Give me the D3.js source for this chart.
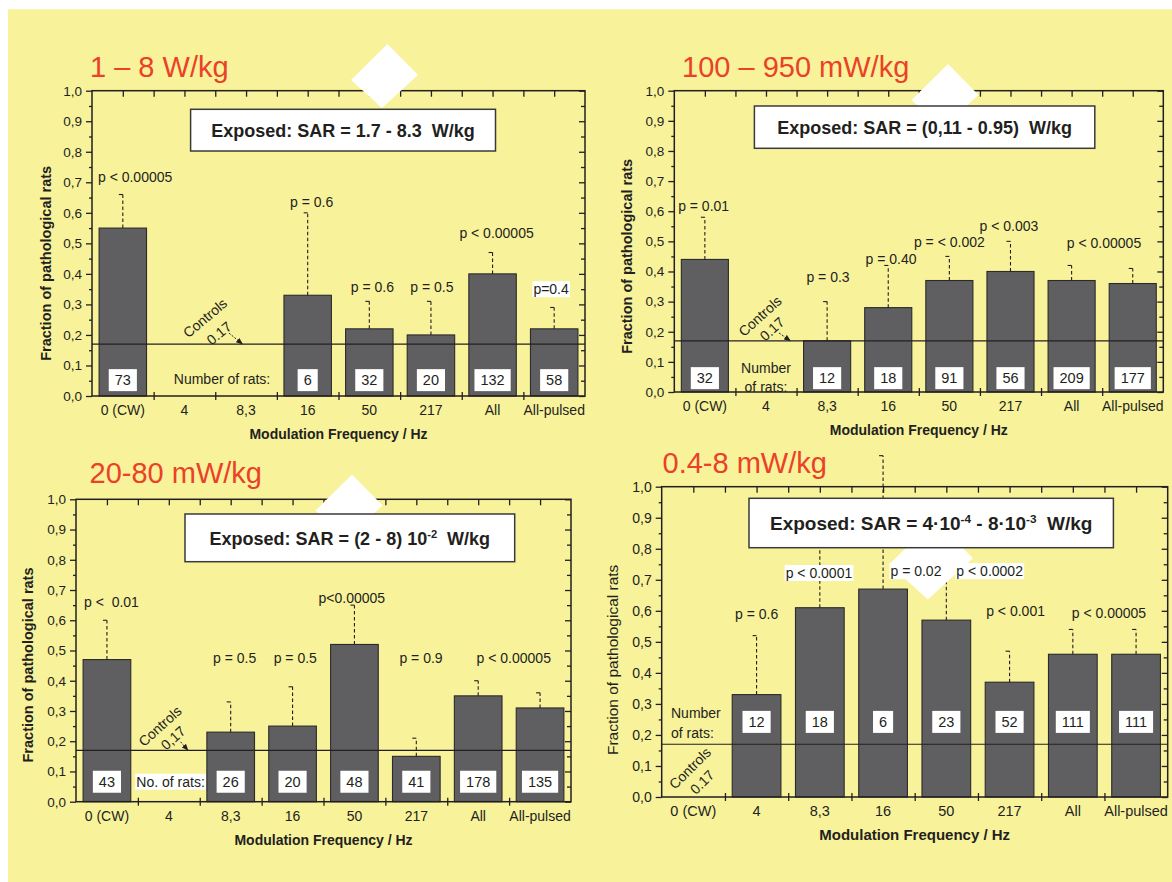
<!DOCTYPE html>
<html>
<head>
<meta charset="utf-8">
<script src="https://cdn.jsdelivr.net/npm/d3@7"></script>
<style>
  html, body { margin: 0; padding: 0; background: #ffffff; }
  svg { display: block; font-family: "Liberation Sans", Arial, Helvetica, sans-serif; }
  text { white-space: pre; }
</style>
</head>
<body>
<svg id="chart" width="1172" height="882"></svg>
<script>
// ---------- shared ----------
const categories = ["0 (CW)", "4", "8,3", "16", "50", "217", "All", "All-pulsed"];
const yTicks = [0, 0.1, 0.2, 0.3, 0.4, 0.5, 0.6, 0.7, 0.8, 0.9, 1.0];
const yMinorTicks = [0.05, 0.15, 0.25, 0.35, 0.45, 0.55, 0.65, 0.75, 0.85, 0.95];
const controlsFraction = 0.17;

// ---------- 1 – 8 W/kg ----------
const titleA = "1 – 8 W/kg";
const exposedA = [["Exposed: SAR = 1.7 - 8.3  W/kg", false]];
const fracA  = [0.55, null, null, 0.33, 0.22, 0.20, 0.40, 0.22];
const upperA = [0.66, null, null, 0.60, 0.31, 0.31, 0.47, 0.29];
const ratsA  = [73, null, null, 6, 32, 20, 132, 58];
const pTextA  = ["p < 0.00005", null, null, "p = 0.6", "p = 0.6", "p = 0.5", "p < 0.00005", "p=0.4"];
const pLevelA = [0.718, null, null, 0.636, 0.358, 0.358, 0.533, 0.35];
const pShiftA = [0.2, 0, 0, 0.065, 0.05, 0.016, 0.065, -0.05];
const pBoxA   = [false, false, false, false, false, false, false, true];

// ---------- 100 – 950 mW/kg ----------
const titleB = "100 – 950 mW/kg";
const exposedB = [["Exposed: SAR = (0,11 - 0.95)  W/kg", false]];
const fracB  = [0.44, null, 0.17, 0.28, 0.37, 0.40, 0.37, 0.36];
const upperB = [0.58, null, 0.30, 0.42, 0.45, 0.50, 0.42, 0.41];
const ratsB  = [32, null, 12, 18, 91, 56, 209, 177];
const pTextB  = ["p = 0.01", null, "p = 0.3", "p = 0.40", "p = < 0.002", "p < 0.003", "p < 0.00005", null];
const pLevelB = [0.618, null, 0.383, 0.441, 0.499, 0.552, 0.494, null];
const pShiftB = [-0.02, 0, 0.015, 0.045, 0, -0.025, 0.53, 0];
const pBoxB   = [false, false, false, false, false, false, false, false];

// ---------- 20-80 mW/kg ----------
const titleC = "20-80 mW/kg";
const exposedC = [["Exposed: SAR = (2 - 8) 10", false], ["-2", true], ["  W/kg", false]];
const fracC  = [0.47, null, 0.23, 0.25, 0.52, 0.15, 0.35, 0.31];
const upperC = [0.60, null, 0.33, 0.38, 0.65, 0.21, 0.40, 0.36];
const ratsC  = [43, null, 26, 20, 48, 41, 178, 135];
const pTextC  = ["p <  0.01", null, "p = 0.5", "p = 0.5", "p<0.00005", "p = 0.9", "p < 0.00005", null];
const pLevelC = [0.661, null, 0.476, 0.476, 0.673, 0.476, 0.474, null];
const pShiftC = [0.073, 0, 0.063, 0.044, -0.042, 0.076, 0.575, 0];
const pBoxC   = [false, false, false, false, false, false, false, false];

// ---------- 0.4-8 mW/kg ----------
const titleD = "0.4-8 mW/kg";
const exposedD = [["Exposed: SAR = 4·10", false], ["-4", true], [" - 8·10", false], ["-3", true], ["  W/kg", false]];
const fracD  = [null, 0.33, 0.61, 0.67, 0.57, 0.37, 0.46, 0.46];
const upperD = [null, 0.52, 0.88, 1.10, 0.72, 0.47, 0.54, 0.54];
const ratsD  = [null, 12, 18, 6, 23, 52, 111, 111];
const pTextD  = [null, "p = 0.6", "p < 0.0001", "p = 0.02", "p < 0.0002", "p < 0.001", "p < 0.00005", null];
const pLevelD = [null, 0.589, 0.722, 0.728, 0.728, 0.60, 0.594, null];
const pShiftD = [0, 0, -0.014, 0.52, 0.685, 0.095, 0.572, 0];
const pBoxD   = [false, false, true, true, true, false, false, false];

// ---------- styling ----------
const ink = "#231f20";
const barFill = "#5f5f62";
const titleRed = "#ea4128";
const paper = "#f8f29b";

const panels = [
  {
    title: titleA, exposed: exposedA, frac: fracA, upper: upperA, rats: ratsA,
    pText: pTextA, pLevel: pLevelA, pShift: pShiftA, pBox: pBoxA,
    ratsLevel: 0.052,
    controlsText: ["Controls", "0.17"],
    layout: {
      left: 92, right: 585, top: 90.7, bottom: 396,
      titleX: 90, titleY: 77.3,
      yTitleDx: -46, yTitleDy: 20, yTitleWeight: "bold", yTitleSize: 14.5,
      tickSize: 13.5, catSize: 14, xTitleSize: 14,
      exposedBox: [190.6, 109.3, 495.5, 151], exposedSize: 18,
      diamond: [384.5, 76.5, 1],
      ctrl: { word: [1.834, 0.2555], value: [2.061, 0.206], angle: -40, arrow: [[2.223, 0.206], [2.442, controlsFraction]] },
      caption: { lines: [["Number of rats:", 2.11, 0.056]], anchor: "middle", boxed: false }
    }
  },
  {
    title: titleB, exposed: exposedB, frac: fracB, upper: upperB, rats: ratsB,
    pText: pTextB, pLevel: pLevelB, pShift: pShiftB, pBox: pBoxB,
    ratsLevel: 0.046,
    controlsText: ["Controls", "0.17"],
    layout: {
      left: 674.3, right: 1163.3, top: 90.7, bottom: 392,
      titleX: 682, titleY: 76.7,
      yTitleDx: -47, yTitleDy: 15, yTitleWeight: "bold", yTitleSize: 14.5,
      tickSize: 13.5, catSize: 14, xTitleSize: 14,
      exposedBox: [754.4, 106, 1094.8, 148.3], exposedSize: 18,
      diamond: [945, 96.5, 1],
      ctrl: { word: [1.402, 0.252], value: [1.598, 0.209], angle: -42, arrow: [[1.713, 0.196], [1.9, controlsFraction]] },
      caption: { lines: [["Number", 1.5, 0.08], ["of rats:", 1.5, 0.018]], anchor: "middle", boxed: false }
    }
  },
  {
    title: titleC, exposed: exposedC, frac: fracC, upper: upperC, rats: ratsC,
    pText: pTextC, pLevel: pLevelC, pShift: pShiftC, pBox: pBoxC,
    ratsLevel: 0.066,
    controlsText: ["Controls", "0,17"],
    layout: {
      left: 76, right: 571, top: 499.3, bottom: 801.7,
      titleX: 89.5, titleY: 483.3,
      yTitleDx: -48, yTitleDy: 14.5, yTitleWeight: "bold", yTitleSize: 14.5,
      tickSize: 13.5, catSize: 14, xTitleSize: 14,
      exposedBox: [185, 514, 514.7, 561.7], exposedSize: 18,
      diamond: [349, 507, 1],
      ctrl: { word: [1.358, 0.25], value: [1.568, 0.211], angle: -42, arrow: [[1.69, 0.198], [1.81, controlsFraction]] },
      caption: { lines: [["No. of rats:", 1.528, 0.066]], anchor: "middle", boxed: true }
    }
  },
  {
    title: titleD, exposed: exposedD, frac: fracD, upper: upperD, rats: ratsD,
    pText: pTextD, pLevel: pLevelD, pShift: pShiftD, pBox: pBoxD,
    ratsLevel: 0.242,
    controlsText: ["Controls", "0.17"],
    layout: {
      left: 661.7, right: 1167.7, top: 486.7, bottom: 797,
      titleX: 662.5, titleY: 473,
      yTitleDx: -49, yTitleDy: 18, yTitleWeight: "normal", yTitleSize: 15.5,
      tickSize: 14, catSize: 14.5, xTitleSize: 15,
      exposedBox: [749, 498.3, 1113.4, 547.7], exposedSize: 19,
      diamond: [931, 560, 1.25],
      ctrl: { word: [0.447, 0.093], value: [0.637, 0.048], angle: -45, arrow: null },
      caption: { lines: [["Number", 0.147, 0.27], ["of rats:", 0.147, 0.205]], anchor: "start", boxed: false }
    }
  }
];

const svg = d3.select("#chart");

svg.append("defs").append("marker")
  .attr("id", "arrowhead")
  .attr("viewBox", "0 0 10 10")
  .attr("refX", 9).attr("refY", 5)
  .attr("markerWidth", 7).attr("markerHeight", 7)
  .attr("markerUnits", "userSpaceOnUse")
  .attr("orient", "auto")
  .append("path").attr("d", "M0,1 L10,5 L0,9 Z").attr("fill", ink);

// yellow sheet
svg.append("rect").attr("x", 8).attr("y", 9.3).attr("width", 1164).attr("height", 873).attr("fill", paper);

const fmtTick = d => d.toFixed(1).replace(".", ",");
const diamondShape = [[3, -32.5], [33.5, -1.5], [-2.5, 31.5], [-33.5, 3.5]];

function styleAxis(sel, fontSize) {
  sel.select(".domain").remove();
  sel.selectAll(".tick line").attr("stroke", ink).attr("stroke-width", 1.3);
  sel.selectAll(".tick text").attr("fill", ink).attr("font-size", fontSize)
    .attr("font-family", "'Liberation Sans', Arial, sans-serif");
}

function drawPanel(p) {
  const L = p.layout;
  const g = svg.append("g");

  const x = d3.scaleBand().domain(categories).range([L.left, L.right])
    .paddingInner(0.23).paddingOuter(0.115);
  const xf = d3.scaleLinear().domain([0, categories.length]).range([L.left, L.right]);
  const y = d3.scaleLinear().domain([0, 1]).range([L.bottom, L.top]);
  const cx = i => xf(i + 0.5);

  const rows = categories.map((c, i) => ({
    c, i, v: p.frac[i], u: p.upper[i], n: p.rats[i],
    pt: p.pText[i], pl: p.pLevel[i], ps: p.pShift[i], pb: p.pBox[i]
  }));

  // bars
  g.append("g").selectAll("rect").data(rows.filter(d => d.v != null)).join("rect")
    .attr("x", d => x(d.c)).attr("y", d => y(d.v))
    .attr("width", x.bandwidth()).attr("height", d => y(0) - y(d.v))
    .attr("fill", barFill).attr("stroke", "#2b2b2b").attr("stroke-width", 1.1);

  // controls level
  g.append("line").attr("x1", L.left).attr("x2", L.right)
    .attr("y1", y(controlsFraction)).attr("y2", y(controlsFraction))
    .attr("stroke", ink).attr("stroke-width", 1.2);

  // upper dashed error bars
  const errs = rows.filter(d => d.u != null);
  const eg = g.append("g").attr("stroke", ink).attr("stroke-width", 1.1);
  eg.selectAll("line.e").data(errs).join("line").attr("class", "e")
    .attr("x1", d => cx(d.i)).attr("x2", d => cx(d.i))
    .attr("y1", d => y(d.v)).attr("y2", d => y(d.u))
    .attr("stroke-dasharray", "3.5,2.5");
  eg.selectAll("line.cap").data(errs).join("line").attr("class", "cap")
    .attr("x1", d => cx(d.i) - 4).attr("x2", d => cx(d.i))
    .attr("y1", d => y(d.u)).attr("y2", d => y(d.u));

  // axes
  const ax = g.append("g");
  styleAxis(ax.append("g").attr("transform", `translate(${L.left},0)`)
    .call(d3.axisLeft(y).tickValues(yTicks).tickFormat(fmtTick).tickSize(6).tickPadding(4)), L.tickSize);
  styleAxis(ax.append("g").attr("transform", `translate(${L.left},0)`)
    .call(d3.axisLeft(y).tickValues(yMinorTicks).tickFormat("").tickSize(3)), L.tickSize);
  styleAxis(ax.append("g").attr("transform", `translate(${L.right},0)`)
    .call(d3.axisRight(y).tickValues(yTicks).tickFormat("").tickSize(-6)), L.tickSize);
  styleAxis(ax.append("g").attr("transform", `translate(${L.right},0)`)
    .call(d3.axisRight(y).tickValues(yMinorTicks).tickFormat("").tickSize(-4)), L.tickSize);
  styleAxis(ax.append("g").attr("transform", `translate(0,${L.top})`)
    .call(d3.axisTop(xf).tickValues(d3.range(0.5, categories.length, 0.5)).tickFormat("").tickSize(-6)), L.tickSize);
  const bt = ax.append("g").attr("transform", `translate(0,${L.bottom})`)
    .call(d3.axisBottom(xf).tickValues(d3.range(1, categories.length)).tickFormat("").tickSize(4));
  styleAxis(bt, L.tickSize);
  bt.selectAll(".tick line").attr("y1", -4);
  styleAxis(ax.append("g").attr("transform", `translate(0,${L.bottom})`)
    .call(d3.axisBottom(x).tickSize(0).tickPadding(9)), L.catSize);

  ax.append("rect").attr("x", L.left).attr("y", L.top)
    .attr("width", L.right - L.left).attr("height", L.bottom - L.top)
    .attr("fill", "none").attr("stroke", ink).attr("stroke-width", 1.5);

  // axis titles
  g.append("text")
    .attr("x", (L.left + L.right) / 2).attr("y", L.bottom + 43)
    .attr("text-anchor", "middle").attr("font-weight", "bold")
    .attr("font-size", L.xTitleSize).attr("fill", ink)
    .text("Modulation Frequency / Hz");
  g.append("text")
    .attr("transform", `translate(${L.left + L.yTitleDx},${(L.top + L.bottom) / 2 + L.yTitleDy}) rotate(-90)`)
    .attr("text-anchor", "middle").attr("dominant-baseline", "central")
    .attr("font-weight", L.yTitleWeight).attr("font-size", L.yTitleSize).attr("fill", ink)
    .text("Fraction of pathological rats");

  // panel title
  g.append("text").attr("x", L.titleX).attr("y", L.titleY)
    .attr("font-size", 29).attr("fill", titleRed).text(p.title);

  // controls annotation
  const C = L.ctrl;
  g.append("text")
    .attr("transform", `translate(${xf(C.word[0])},${y(C.word[1])}) rotate(${C.angle})`)
    .attr("text-anchor", "middle").attr("dominant-baseline", "central")
    .attr("font-size", 14).attr("fill", ink).text(p.controlsText[0]);
  g.append("text")
    .attr("transform", `translate(${xf(C.value[0])},${y(C.value[1])}) rotate(${C.angle})`)
    .attr("text-anchor", "middle").attr("dominant-baseline", "central")
    .attr("font-size", 14).attr("fill", ink).text(p.controlsText[1]);
  if (C.arrow) {
    g.append("line")
      .attr("x1", xf(C.arrow[0][0])).attr("y1", y(C.arrow[0][1]))
      .attr("x2", xf(C.arrow[1][0])).attr("y2", y(C.arrow[1][1]))
      .attr("stroke", ink).attr("stroke-width", 1).attr("stroke-dasharray", "2,1.5")
      .attr("marker-end", "url(#arrowhead)");
  }

  // white diamond
  const [dx0, dy0, ds] = L.diamond;
  g.append("polygon")
    .attr("points", diamondShape.map(([a, b]) => `${dx0 + a * ds},${dy0 + b * ds}`).join(" "))
    .attr("fill", "#ffffff");

  // "Exposed" box
  const [bx0, by0, bx1, by1] = L.exposedBox;
  g.append("rect").attr("x", bx0).attr("y", by0).attr("width", bx1 - bx0).attr("height", by1 - by0)
    .attr("fill", "#ffffff").attr("stroke", "#3a3a3a").attr("stroke-width", 1.5);
  const et = g.append("text").attr("x", (bx0 + bx1) / 2).attr("y", (by0 + by1) / 2 + 7)
    .attr("text-anchor", "middle").attr("font-weight", "bold")
    .attr("font-size", L.exposedSize).attr("fill", ink);
  p.exposed.forEach(([s, sup]) => {
    const t = et.append("tspan").text(s);
    if (sup) t.attr("font-size", L.exposedSize * 0.62).attr("dy", -7);
    else t.attr("dy", 0);
  });
  // restore baseline after superscripts
  et.selectAll("tspan").each(function (d, i, nodes) {
    const spec = p.exposed[i];
    const prev = i > 0 ? p.exposed[i - 1] : null;
    if (!spec[1] && prev && prev[1]) d3.select(this).attr("dy", 7);
  });

  // number of rats caption
  const cap = L.caption;
  cap.lines.forEach(([s, f, v]) => {
    const tg = g.append("g");
    const t = tg.append("text").attr("x", xf(f)).attr("y", y(v))
      .attr("text-anchor", cap.anchor).attr("dominant-baseline", "central")
      .attr("font-size", 14).attr("fill", ink).text(s);
    if (cap.boxed) {
      const bb = t.node().getBBox();
      tg.insert("rect", "text").attr("x", bb.x - 1).attr("y", y(v) - 8)
        .attr("width", bb.width + 2).attr("height", 16).attr("fill", "#ffffff");
    }
  });

  // p-value labels
  rows.filter(d => d.pt != null).forEach(d => {
    const tg = g.append("g");
    const t = tg.append("text").attr("x", cx(d.i) + d.ps * xf(1) - d.ps * xf(0)).attr("y", y(d.pl))
      .attr("text-anchor", "middle").attr("dominant-baseline", "central")
      .attr("font-size", 14).attr("fill", ink).text(d.pt);
    if (d.pb) {
      const bb = t.node().getBBox();
      tg.insert("rect", "text").attr("x", bb.x - 1).attr("y", y(d.pl) - 8)
        .attr("width", bb.width + 2).attr("height", 16).attr("fill", "#ffffff");
    }
  });

  // counts in white boxes
  rows.filter(d => d.n != null).forEach(d => {
    const tg = g.append("g");
    const t = tg.append("text").attr("x", cx(d.i)).attr("y", y(p.ratsLevel))
      .attr("text-anchor", "middle").attr("dominant-baseline", "central")
      .attr("font-size", 14.5).attr("fill", ink).text(d.n);
    const bb = t.node().getBBox();
    const w = bb.width + 12;
    tg.insert("rect", "text").attr("x", cx(d.i) - w / 2).attr("y", y(p.ratsLevel) - 11)
      .attr("width", w).attr("height", 22).attr("fill", "#ffffff");
  });
}

panels.forEach(drawPanel);
</script>
</body>
</html>
